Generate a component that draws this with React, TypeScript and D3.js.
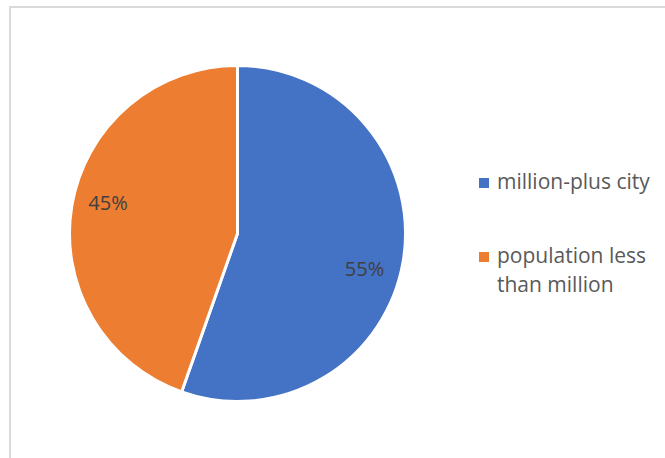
import React from "react";
import * as d3 from "d3";

const categories = ["million-plus city", "population less than million"];
const values = [55.4, 44.6];
const labels = ["55%", "45%"];
const legendLines = [["million-plus city"], ["population less", "than million"]];
const colors = ["#4472C4", "#ED7D31"];

export default function App() {
  const W = 665, H = 458;
  const cx = 237.5, cy = 233.5, r = 168;
  const pie = d3.pie<number>().sort(null).value((d) => d)(values);
  const arc = d3.arc<d3.PieArcDatum<number>>().innerRadius(0).outerRadius(r);
  const labelPos = [
    [364.5, 276],
    [108, 210],
  ];
  const legendY = [189, 263];
  return (
    <svg width={W} height={H} style={{ position: "absolute", left: 0, top: 0, background: "#fff" }}
      fontFamily="'Open Sans', sans-serif">
      <rect x={10} y={7} width={W} height={H} fill="#fff" stroke="#d9d9d9" strokeWidth={2} />
      <g transform={`translate(${cx},${cy})`}>
        {pie.map((p, i) => (
          <path key={categories[i]} d={arc(p) || ""} fill={colors[i]} stroke="#fff" strokeWidth={3} />
        ))}
      </g>
      {labels.map((t, i) => (
        <text key={t} x={labelPos[i][0]} y={labelPos[i][1]} textAnchor="middle" fontSize={20} fill="#404040">
          {t}
        </text>
      ))}
      {categories.map((c, i) => (
        <g key={c}>
          <rect x={479} y={legendY[i] - 11} width={10} height={10} fill={colors[i]} />
          {legendLines[i].map((l, j) => (
            <text key={l} x={497} y={legendY[i] + j * 29} fontSize={21} fill="#595959">
              {l}
            </text>
          ))}
        </g>
      ))}
    </svg>
  );
}
